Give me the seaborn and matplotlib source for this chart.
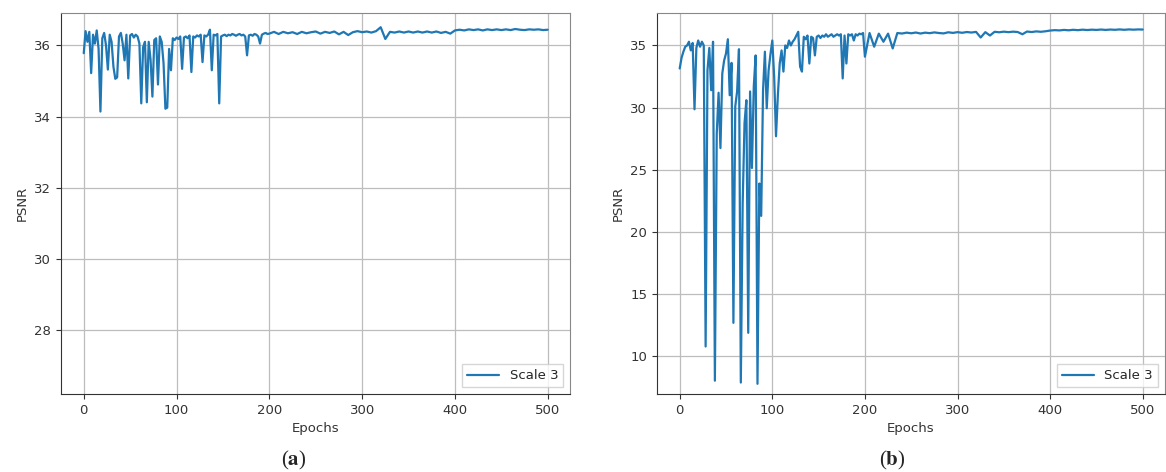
import numpy as np
import matplotlib
matplotlib.use("Agg")
import matplotlib.pyplot as plt
import seaborn as sns

# ---------------------------------------------------------------------------
# data (PSNR per epoch, scale 3)
# ---------------------------------------------------------------------------
# head: epochs 0..198 every 2, tail: epochs 200..500 every 5
epochs_head = list(range(0, 200, 2))
epochs_tail = list(range(200, 501, 5))

psnr_a_head = [
    35.78, 36.40, 36.10, 36.38, 35.22, 36.30, 36.05, 36.42, 35.90, 34.14,
    36.20, 36.35, 36.00, 35.32, 36.30, 36.10, 35.40, 35.06, 35.10, 36.25,
    36.35, 36.05, 35.58, 36.30, 35.07, 36.28, 36.32, 36.22, 36.30, 36.25,
    36.05, 34.37, 35.95, 36.10, 34.40, 36.10, 35.60, 34.56, 36.15, 36.20,
    34.90, 36.25, 36.10, 35.50, 34.22, 34.25, 35.90, 35.30, 36.20, 36.15,
    36.22, 36.18, 36.25, 35.34, 36.22, 36.25, 36.20, 36.28, 35.25, 36.25,
    36.22, 36.28, 36.25, 36.30, 35.53, 36.28, 36.25, 36.30, 36.44, 35.30,
    36.30, 36.28, 36.32, 34.37, 36.25, 36.28, 36.30, 36.26, 36.30, 36.28,
    36.32, 36.30, 36.27, 36.30, 36.32, 36.28, 36.30, 36.25, 35.72, 36.28,
    36.30, 36.27, 36.32, 36.30, 36.25, 36.05, 36.30, 36.33, 36.35, 36.32,
]
psnr_a_tail = [
    36.33, 36.38, 36.32, 36.38, 36.34, 36.37, 36.32, 36.38, 36.34, 36.37,
    36.39, 36.33, 36.38, 36.35, 36.39, 36.31, 36.38, 36.29, 36.37, 36.40,
    36.37, 36.39, 36.36, 36.40, 36.51, 36.18, 36.38, 36.36, 36.39, 36.36,
    36.39, 36.36, 36.39, 36.36, 36.39, 36.36, 36.39, 36.35, 36.38, 36.33,
    36.42, 36.44, 36.42, 36.45, 36.43, 36.45, 36.42, 36.45, 36.43, 36.45,
    36.43, 36.45, 36.43, 36.46, 36.44, 36.43, 36.45, 36.44, 36.45, 36.43,
    36.44,
]

psnr_b_head = [
    33.15, 34.00, 34.50, 34.90, 35.00, 35.30, 34.60, 35.20, 29.87, 34.80,
    35.40, 34.90, 35.30, 35.00, 10.80, 33.00, 34.80, 31.40, 35.30, 8.05,
    27.90, 31.20, 26.75, 32.75, 33.80, 34.35, 35.50, 31.00, 33.60, 12.70,
    30.10, 31.30, 34.70, 7.90, 22.30, 28.75, 30.60, 11.90, 31.30, 25.15,
    31.70, 34.20, 7.80, 23.90, 21.30, 31.40, 34.50, 29.95, 33.00, 34.30,
    35.40, 32.50, 27.70, 31.00, 33.55, 34.60, 32.90, 35.00, 34.80, 35.40,
    35.00, 35.30, 35.50, 35.80, 36.10, 33.30, 32.90, 35.70, 35.50, 35.80,
    33.55, 35.70, 35.60, 34.20, 35.70, 35.80, 35.60, 35.80, 35.70, 35.90,
    35.70, 35.80, 35.90, 35.70, 35.80, 35.90, 35.80, 35.90, 32.35, 35.80,
    33.55, 35.90, 35.80, 35.90, 35.40, 35.90, 35.80, 35.95, 35.90, 36.00,
]
psnr_b_tail = [
    34.10, 36.00, 34.90, 35.95, 35.30, 35.95, 34.76, 36.00, 35.96, 36.03,
    35.98, 36.04, 35.96, 36.03, 35.99, 36.05, 36.00, 35.97, 36.06, 36.01,
    36.07, 36.02, 36.08, 36.04, 36.09, 35.64, 36.07, 35.80, 36.10, 36.06,
    36.11, 36.07, 36.11, 36.08, 35.90, 36.12, 36.08, 36.13, 36.10, 36.14,
    36.20, 36.23, 36.21, 36.25, 36.22, 36.26, 36.23, 36.27, 36.24, 36.27,
    36.25, 36.28, 36.25, 36.28, 36.26, 36.29, 36.26, 36.29, 36.27, 36.29,
    36.28,
]

series_label = "Scale 3"
panel_tags = ["a", "b"]

epochs = np.array(epochs_head + epochs_tail)
psnr_a = np.array(psnr_a_head + psnr_a_tail)
psnr_b = np.array(psnr_b_head + psnr_b_tail)

# ---------------------------------------------------------------------------
# style
# ---------------------------------------------------------------------------
sns.set_style("ticks")
plt.rcParams["font.family"] = ["DejaVu Sans"]
plt.rcParams["mathtext.fontset"] = "stix"

fig = plt.figure(figsize=(11.66, 4.72), dpi=100)
ax_a = fig.add_axes([61 / 1166, 1 - 394 / 472, 509 / 1166, 381 / 472])
ax_b = fig.add_axes([657 / 1166, 1 - 394 / 472, 508 / 1166, 381 / 472])

for ax, y, ylim in [(ax_a, psnr_a, (26.2, 36.91)), (ax_b, psnr_b, (6.98, 37.61))]:
    sns.lineplot(x=epochs, y=y, ax=ax, color="#1f77b4", linewidth=1.6,
                 label=series_label, estimator=None)
    ax.set_ylim(*ylim)
    ax.set_xlim(-24.5, 524)
    ax.set_xticks([0, 100, 200, 300, 400, 500])
    ax.grid(True, color="#bdbdbd", linewidth=0.9)
    ax.set_axisbelow(True)
    ax.tick_params(labelsize=9.5, colors="#333333", length=3.5, width=0.8)
    ax.set_xlabel("Epochs", fontsize=9.5, color="#333333")
    ax.set_ylabel("PSNR", fontsize=9.5, color="#333333")
    for side in ["top", "right"]:
        ax.spines[side].set_visible(True)
        ax.spines[side].set_color("#888888")
    for side in ["left", "bottom"]:
        ax.spines[side].set_color("#333333")
    leg = ax.legend(loc="lower right", fontsize=9.5, frameon=True, fancybox=False,
                    handlelength=2.4)
    leg.get_frame().set_edgecolor("#cccccc")

ax_a.set_yticks([28, 30, 32, 34, 36])
ax_b.set_yticks([10, 15, 20, 25, 30, 35])

# panel tags below each chart
for xpos, tag in zip([294, 892], panel_tags):
    fig.text(xpos / 1166, 1 - 460 / 472, r"($\mathbf{" + tag + r"}$)",
             ha="center", va="center", fontsize=15, family="Liberation Serif")

fig.savefig("out.png", dpi=100)
